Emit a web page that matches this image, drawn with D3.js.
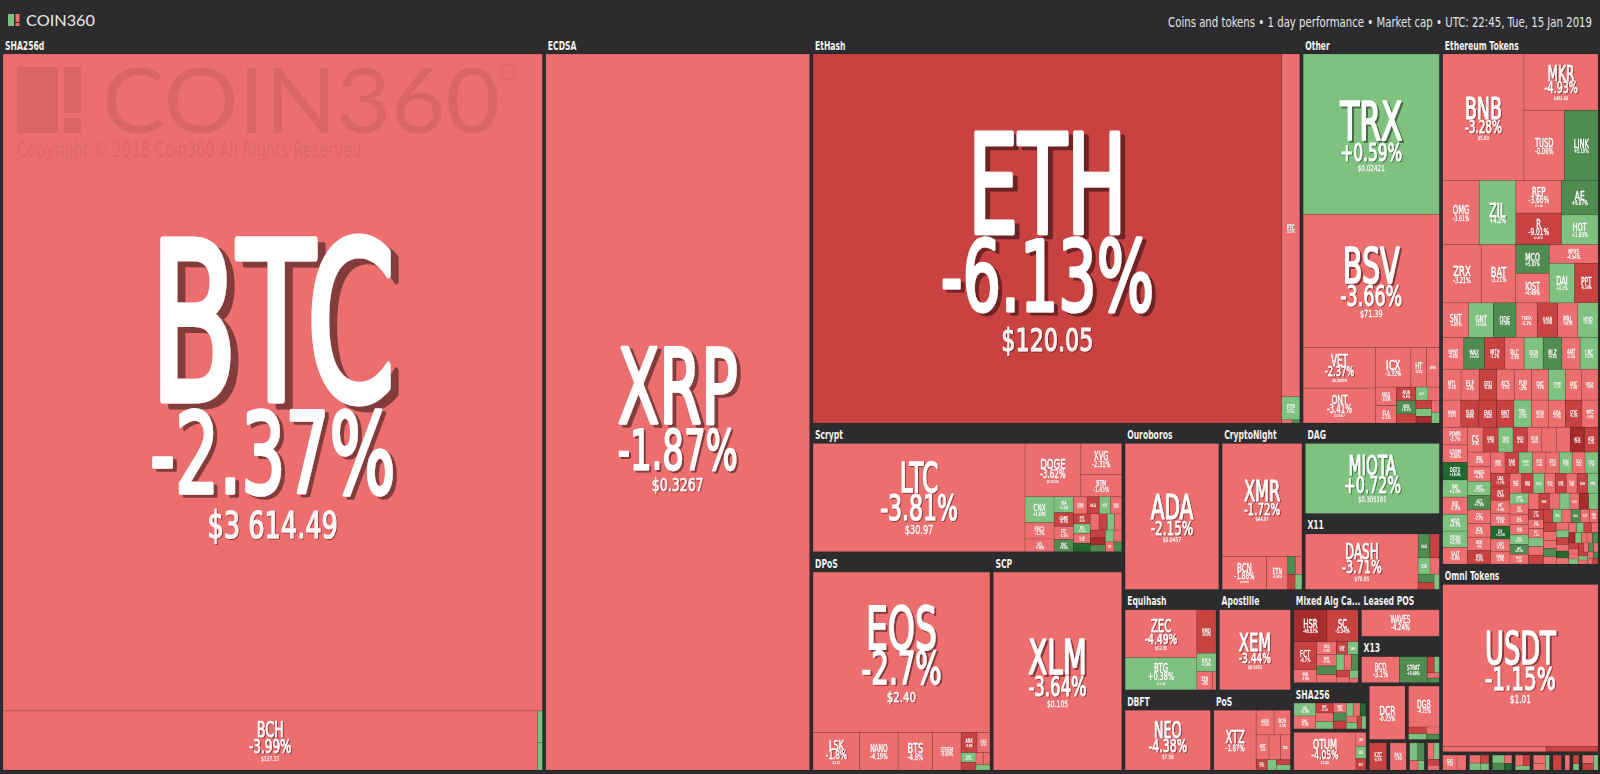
<!DOCTYPE html>
<html>
<head>
<meta charset="utf-8">
<title>COIN360</title>
<script src="https://cdnjs.cloudflare.com/ajax/libs/d3/7.8.5/d3.min.js"></script>
<style>
  html, body { margin: 0; padding: 0; background: #2c2c2e; overflow: hidden; }
  .t { font-family: "DejaVu Sans Condensed", "Liberation Sans Narrow", sans-serif; }
  .logo { font-family: Lato, "Open Sans", sans-serif; }
</style>
</head>
<body>
<svg id="chart" width="1600" height="774"></svg>
<script>
// ---------------- data ----------------
var headerInfo = ["Coins and tokens", "1 day performance", "Market cap", "UTC: 22:45, Tue, 15 Jan 2019"];

// groups that show a header label
var groupNames = ["SHA256d", "ECDSA", "EtHash", "Other", "Ethereum Tokens", "Scrypt", "DPoS", "SCP",
  "Ouroboros", "CryptoNight", "DAG", "X11", "Equihash", "Apostille", "Mixed Alg Ca...", "Leased POS",
  "X13", "DBFT", "PoS", "SHA256", "Omni Tokens"];
// small groups whose header is hidden
var hiddenGroups = ["Qtum", "Decred", "DigiByte", "Zcoin", "PIVX", "Lyra2", "Misc",
  "NEO Tokens", "Waves Tokens", "Ardor Tokens", "Tron Tokens", "Stellar Tokens", "Steem Tokens",
  "BitShares Tokens", "Lisk Tokens", "EOS Tokens"];

// [ticker, size (market cap weight), 1 day change %, price]
var sha256dCoins = [["BTC", 3659, -2.37, "$3 614.49"], ["BCH", 326, -3.99, "$127.17"], ["PPC", 1.6, 2.14, ""], ["NMC", 1.4, 4.61, ""]];
var ecdsaCoins = [["XRP", 1963, -1.87, "$0.3267"]];
var ethashCoins = [["ETH", 1834, -6.13, "$120.05"], ["ETC", 65.4, -4.37, "$4.52"], ["ETP", 4.4, 3.02, "$1.27"], ["UBQ", 0.35, -4.8, ""], ["CLO", 0.25, 6.2, ""]];
var otherCoins = [["TRX", 235.5, 0.59, "$0.02421"], ["BSV", 195.7, -3.66, "$71.39"], ["VET", 31.9, -2.37, "$0.00459"],
  ["ONT", 27.3, -3.41, "$0.9567"], ["ICX", 15.1, -3.32, "$0.2931"], ["HT", 6.7, -0.2, "$1.05"], ["WAN", 5.5, -4.31, "$0.4236"],
  ["NAS", 4.1, -3.8, "$1.04"], ["ELA", 3.9, -2.1, "$1.91"], ["AION", 2.9, -5.4, ""], ["NKN", 2.8, 6.1, ""], ["NULS", 1.9, -6.2, ""],
  ["WICC", 1.7, 2.4, ""], ["MOAC", 1.6, -3.1, ""], ["SEELE", 1.4, -7.9, ""], ["TOMO", 1.3, 4.6, ""], ["HPB", 1.1, -16.2, ""],
  ["YOYO", 1.0, -4.4, ""], ["NEBL", 0.9, 1.2, ""]];
var ethTokenCoins = [["BNB", 108.8, -3.28, "$5.80"], ["MKR", 44.2, -4.93, "$461.80"], ["TUSD", 30.2, -0.06, "$1.01"],
  ["LINK", 24.9, 5.19, "$0.4912"], ["OMG", 24.9, -3.61, "$1.32"], ["ZIL", 24.9, 4.2, "$0.0251"], ["ZRX", 23.8, -3.21, "$0.3126"],
  ["BAT", 21.3, -3.21, "$0.1569"], ["REP", 15.8, -3.66, "$11.48"], ["R", 15.3, -9.01, "$0.8912"], ["AE", 13.4, 9.07, "$0.5011"],
  ["HOT", 11.5, 1.85, "$0.0010"], ["DAI", 10.6, 0.1, "$1.00"], ["IOST", 10.5, -4.48, "$0.0081"], ["MCO", 10.2, 5.02, "$3.51"],
  ["PPT", 9.8, -6.29, "$1.35"], ["NPXS", 9.7, -4.54, "$0.0006"], ["SNT", 9.5, -1.65, "$0.0221"], ["GNT", 9.1, 4.03, "$0.0776"],
  ["ODE", 8.3, 5.28, "$0.62"], ["PRL", 7.4, -4.62, "$0.94"], ["QASH", 7.5, -5.64, ""], ["WAX", 7.0, 14.02, ""], ["DCN", 6.4, 1.67, ""],
  ["LRC", 6.0, 3.2, ""], ["ELF", 5.9, -3.2, ""], ["KCS", 5.7, -3.73, ""], ["QKC", 5.5, -3.9, ""], ["POLY", 5.3, -3.45, ""],
  ["MANA", 5.2, -2.87, ""], ["ENG", 5.1, -7.84, ""], ["BNT", 5.0, -5.91, ""], ["VERI", 4.9, -4.02, ""], ["WTC", 4.6, -3.9, ""],
  ["POWR", 4.6, -3.7, ""], ["LOOM", 4.6, -3.83, ""], ["PAY", 4.5, 1.9, ""], ["STORJ", 4.3, 2.5, ""], ["MOD", 3.8, -6.9, ""],
  ["RDN", 3.8, -4.4, ""], ["CENNZ", 3.7, -3.22, ""], ["AGI", 3.6, -6.2, ""], ["ENJ", 3.6, -3.1, ""], ["QNT", 3.5, 1.24, ""],
  ["CVC", 3.4, -2.7, ""], ["REQ", 3.3, -4.0, ""], ["SAN", 3.1, -8.2, ""], ["KIN", 2.9, 1.3, ""], ["EDO", 2.9, -4.5, ""],
  ["GVT", 2.7, -5.8, ""], ["ETHOS", 2.6, -3.5, ""], ["DRGN", 2.5, -3.9, ""], ["BRD", 2.4, -6.5, ""], ["DGD", 2.3, -3.3, ""],
  ["EDG", 1.9, 2.1, ""], ["THETA", 7.8, -3.1, ""], ["NEXO", 7.4, 2.4, ""], ["DENT", 7.1, -4.6, ""], ["MITH", 6.9, -7.2, ""],
  ["RLC", 6.5, -3.9, ""], ["BLZ", 6.3, 6.8, ""], ["ANT", 6.2, -2.2, ""], ["MTL", 6.0, -4.1, ""], ["GTO", 5.8, -5.3, ""],
  ["FUN", 5.7, -3.0, ""], ["STORM", 5.5, 1.1, ""], ["KNC", 5.4, -4.4, ""], ["SUB", 5.2, -9.6, ""], ["TEL", 5.0, 3.3, ""],
  ["AOA", 4.9, -3.7, ""], ["CTXC", 4.8, -6.1, ""], ["DGTX", 4.6, 18.2, ""], ["BIX", 4.5, -2.9, ""], ["MGO", 4.4, 4.7, ""],
  ["SALT", 4.3, -4.8, ""], ["CS", 4.1, -3.3, ""], ["DATA", 4.0, -5.7, ""], ["TNT", 3.9, 2.2, ""], ["SNGLS", 3.8, -3.5, ""],
  ["ADX", 3.7, -16.4, ""], ["WINGS", 3.6, -4.2, ""], ["AST", 3.5, 7.9, ""], ["RCN", 3.4, -3.1, ""], ["MTH", 3.3, -6.6, ""],
  ["LEND", 3.2, -2.6, ""], ["DROP", 3.1, 1.6, ""], ["XYO", 3.0, -4.9, ""], ["BTU", 3.0, -1.8, ""], ["UTK", 2.9, 3.8, ""],
  ["LBA", 2.8, -7.7, ""], ["IHT", 2.7, -3.4, ""], ["DX", 2.6, 22.5, ""], ["CRPT", 2.6, -4.1, ""], ["NEC", 2.5, -3.6, ""],
  ["OCN", 2.4, 1.9, ""], ["EVN", 2.3, -5.2, ""], ["POE", 2.3, -2.8, ""], ["SNM", 2.2, -6.3, ""], ["FTM", 2.2, 3.9, ""],
  ["IOTX", 2.1, 2.7, ""], ["ABT", 2.0, -3.9, ""], ["PLR", 2.0, -4.7, ""], ["GEN", 2.0, -3.7, ""], ["MFT", 1.9, 12.1, ""],
  ["RHOC", 1.9, -4.9, ""], ["APPC", 1.8, -3.2, ""], ["GNX", 1.8, -8.8, ""], ["MXM", 1.8, -2.5, ""], ["RUFF", 1.7, 1.4, ""],
  ["DTR", 1.6, -4.3, ""], ["BCPT", 1.6, -19.5, ""], ["TIME", 1.6, 4.4, ""], ["CVT", 1.6, -6.1, ""], ["QSP", 1.5, -2.9, ""],
  ["KEY", 1.5, -3.4, ""], ["CDT", 1.4, 4.9, ""], ["VIB", 1.4, -3.8, ""], ["ATMI", 1.4, -6.0, ""], ["TRAC", 1.3, -5.5, ""],
  ["DTA", 1.3, 2.9, ""], ["REM", 1.3, -2.2, ""], ["BAX", 1.3, 7.1, ""], ["EGT", 1.3, -4.2, ""], ["INS", 1.2, -4.0, ""],
  ["ZCO", 1.2, -11.3, ""], ["OLT", 1.2, -3.0, ""], ["LYM", 1.1, -3.5, ""], ["FSN", 1.1, 6.4, ""], ["MDA", 1.0, -2.4, ""],
  ["EDR", 1.0, -4.6, ""], ["AMB", 1.0, 1.2, ""], ["HYDRO", 0.9, -6.8, ""], ["PAL", 0.9, -3.1, ""], ["YEE", 0.9, 16.7, ""],
  ["CPC", 0.8, -4.4, ""], ["LOC", 0.8, -2.1, ""], ["TAAS", 0.8, 3.6, ""], ["NCASH", 0.8, -5.9, ""], ["WPR", 0.7, -3.0, ""],
  ["SPANK", 0.7, -24.1, ""], ["QLC", 0.7, 2.3, ""], ["ELEC", 0.6, -4.5, ""], ["DNT", 0.6, -3.3, ""], ["UKG", 0.6, 8.8, ""],
  ["SRN", 0.6, -6.4, ""], ["TNB", 0.5, -2.7, ""], ["OST", 0.5, -3.9, ""], ["CND", 0.5, 1.7, ""], ["ARN", 0.5, -5.1, ""],
  ["VEE", 0.5, -3.4, ""], ["LUN", 0.5, 11.6, ""], ["EKO", 0.4, -4.2, ""], ["BQX", 0.4, -7.5, ""], ["HMQ", 0.4, 2.6, ""],
  ["PRE", 0.4, -3.6, ""], ["DAT", 0.4, -2.3, ""], ["AIDOC", 0.3, 5.5, ""], ["SWM", 0.3, -4.9, ""], ["BCDN", 0.3, -13.2, ""]];
var scryptCoins = [["LTC", 275.1, -3.81, "$30.97"], ["DOGE", 35.7, -3.62, "$0.00205"], ["XVG", 15.3, -2.31, "$0.0089"],
  ["BTM", 10.8, -1.43, "$0.0918"], ["CNX", 9.0, 1.69, "$0.62"], ["EMC2", 5.7, -2.2, ""], ["SYS", 4.4, -4.38, ""], ["VIA", 3.7, 1.6, ""],
  ["GAME", 3.2, -6.7, ""], ["FTC", 3.1, -3.2, ""], ["DGC", 2.8, 9.4, ""], ["CANN", 2.8, -4.1, ""], ["NLG", 2.5, -12.5, ""],
  ["XST", 2.3, 3.1, ""], ["UNO", 2.3, -3.6, ""], ["POT", 2.0, -5.6, ""], ["BTA", 2.0, 2.2, ""], ["CLAM", 1.9, -4.4, ""],
  ["DOPE", 1.7, 17.3, ""], ["GLD", 1.7, -2.9, ""], ["ZET", 1.6, -7.4, ""], ["LINX", 1.4, 1.8, ""], ["PND", 1.4, -3.3, ""],
  ["MEC", 1.4, -5.2, ""], ["BLC", 1.3, -18.9, ""], ["TRC", 1.2, 5.7, ""], ["CSC", 1.2, 3.3, ""], ["SPR", 1.1, -4.0, ""],
  ["IFC", 1.0, -2.6, ""], ["NYC", 0.9, 8.1, ""]];
var dposCoins = [["EOS", 318.4, -2.7, "$2.40"], ["LSK", 19.6, -1.8, "$1.32"], ["NANO", 16.2, -4.19, "$1.03"], ["BTS", 14.5, -4.8, "$0.0489"],
  ["STEEM", 12.0, -3.84, "$0.2834"], ["ARK", 3.6, -5.6, "$0.42"], ["GXS", 2.9, -4.5, "$0.71"], ["SHIFT", 1.6, 2.1, ""],
  ["RISE", 1.3, -6.8, ""], ["OXY", 1.0, -3.2, ""], ["XAS", 0.9, -4.1, ""], ["ACT", 0.8, 1.4, ""]];
var scpCoins = [["XLM", 287, -3.64, "$0.105"]];
var ouroborosCoins = [["ADA", 161, -2.15, "$0.0457"]];
var cryptoNightCoins = [["XMR", 106.8, -1.72, "$44.07"], ["BCN", 17.4, -1.88, "$0.0008"], ["ETN", 8.3, -3.04, "$0.0059"],
  ["AEON", 1.6, 9.1, ""], ["XHV", 1.4, -2.2, ""], ["LOKI", 1.3, -6.9, ""], ["MSR", 1.2, 1.8, ""]];
var dagCoins = [["MIOTA", 124, 0.72, "$0.305181"]];
var x11Coins = [["DASH", 87.6, -3.71, "$70.05"], ["XSN", 3.9, 6.8, ""], ["CRW", 3.2, -6.1, ""], ["ION", 2.7, 1.3, ""],
  ["MUE", 2.1, -3.2, ""], ["CRC", 1.9, 12.0, ""], ["EXCL", 1.5, -9.0, ""], ["HTML", 1.1, 3.0, ""]];
var equihashCoins = [["ZEC", 44.7, -4.49, "$52.05"], ["BTG", 29.9, 0.38, "$11.48"], ["KMD", 10.8, -6.32, "$1.04"],
  ["BTCP", 4.6, 1.6, ""], ["ZEN", 3.7, -3.0, ""], ["ZCL", 0.8, -4.1, ""]];
var apostilleCoins = [["XEM", 74.5, -3.44, "$0.0583"]];
var dbftCoins = [["NEO", 71, -4.38, "$7.56"]];
var posCoins = [["XTZ", 35.4, -1.87, "$0.4789"], ["ARDR", 6.2, -3.03, ""], ["BOS", 5.6, -2.4, ""], ["NXT", 4.5, -4.6, ""],
  ["REDD", 4.0, -3.1, ""], ["BLK", 3.4, -4.7, ""], ["GRC", 1.6, -7.2, ""], ["ZCN", 1.3, 3.2, ""], ["CLOAK", 1.0, -5.5, ""],
  ["XSPEC", 1.0, 2.1, ""]];
var mixedCoins = [["HSR", 14.2, -46.82, "$0.91"], ["SC", 13.4, -5.14, "$0.0025"], ["FCT", 8.6, -6.7, ""], ["RVN", 4.0, -2.9, ""],
  ["NXS", 3.4, -1.9, ""], ["MYR", 3.0, -3.3, ""], ["AUR", 2.3, 7.5, ""], ["UFO", 2.1, -2.8, ""], ["GAP", 1.9, -9.1, ""],
  ["XMY", 1.8, 1.1, ""], ["XMG", 1.7, 2.2, ""], ["SPK", 1.6, -4.4, ""], ["SHIELD", 1.4, 14.2, ""], ["ADC", 1.2, -6.0, ""],
  ["DIME", 1.0, -3.0, ""], ["VIVO", 0.9, 2.6, ""], ["BCA", 0.5, -4.0, ""]];
var leasedPosCoins = [["WAVES", 38, -4.24, "$2.59"]];
var x13Coins = [["BCD", 18.3, -3.1, "$0.89"], ["STRAT", 13.4, 5.68, "$0.86"], ["NAV", 2.1, -6.3, ""], ["BITB", 1.5, 2.4, ""],
  ["MARS", 1.2, -3.9, ""], ["XHC", 1.0, 8.1, ""]];
var sha256Coins = [["XIN", 5.3, 1.9, ""], ["EMC", 5.3, -4.2, ""], ["MZC", 3.2, -12.4, ""], ["SLR", 2.9, -3.3, ""], ["TIT", 2.4, 4.4, ""],
  ["UNIT", 2.4, -2.8, ""], ["ACOIN", 2.0, 9.1, ""], ["BTCS", 1.9, -6.6, ""], ["CCN", 1.7, 2.3, ""], ["XJO", 1.7, -3.9, ""],
  ["DEM", 1.4, 17.5, ""], ["TEK", 1.3, -4.4, ""], ["CURE", 1.3, 1.6, ""], ["GLC", 1.1, -5.8, ""], ["ZEIT", 1.0, 3.7, ""]];
var qtumCoins = [["QTUM", 26.7, -4.05, "$2.08"], ["QBT", 1.6, -2.3, ""], ["INK", 1.4, 3.1, ""], ["BOT", 1.3, -5.9, ""]];
var decredCoins = [["DCR", 22.2, -0.23, "$18.22"]];
var digibyteCoins = [["DGB", 14.9, -4.21, "$0.0094"], ["SIB", 1.4, -6.4, ""], ["PAK", 1.2, 3.0, ""], ["VTC", 1.1, -3.5, ""], ["XWC", 0.8, 11.0, ""]];
var zcoinCoins = [["XZC", 6.3, -6.1, "$6.49"]];
var pivxCoins = [["PIVX", 6.0, -2.9, "$0.92"]];
var lyraCoins = [["GRS", 2.0, 4.1, ""], ["MONA", 1.6, 6.3, ""], ["LBC", 1.1, -2.0, ""], ["SMART", 0.8, 1.5, ""]];
var miscCoins = [["POA", 1.5, -3.7, ""], ["BURST", 1.3, 2.2, ""], ["XCP", 1.0, -7.5, ""], ["NLC2", 0.8, -2.1, ""]];
var omniCoins = [["USDT", 288, -1.15, "$1.01"], ["MAID", 6.0, -3.92, ""], ["OMNI", 3.0, -5.8, ""]];
var neoTokenCoins = [["GAS", 3.0, -3.3, ""], ["NEX", 1.9, -2.8, ""]];
var wavesTokenCoins = [["WCT", 1.3, -4.0, ""], ["BTN", 1.1, 2.5, ""], ["MRT", 1.0, -6.6, ""], ["TN", 0.8, 1.1, ""]];
var ardorTokenCoins = [["JLH", 1.4, 3.3, ""], ["SUPR", 1.2, 8.2, ""], ["ARDX", 0.9, -2.4, ""], ["IGNIS", 0.7, 15.5, ""]];
var tronTokenCoins = [["SEED", 1.3, -3.1, ""], ["IGG", 1.1, -7.2, ""], ["BET", 0.9, 2.0, ""]];
var stellarTokenCoins = [["MOBI", 1.5, -4.8, ""], ["REPO", 1.2, -2.1, ""], ["SLT", 0.9, 4.4, ""]];
var steemTokenCoins = [["SBD", 2.2, -6.9, ""]];
var btsTokenCoins = [["OPEN", 1.5, -3.5, ""]];
var liskTokenCoins = [["LWF", 1.0, -8.6, ""], ["ONZ", 0.7, 2.9, ""]];
var eosTokenCoins = [["IQ", 1.4, -3.2, ""], ["KARMA", 1.1, -12.0, ""], ["EOSDAC", 1.0, 4.1, ""]];

var groupCoins = {
  "SHA256d": sha256dCoins, "ECDSA": ecdsaCoins, "EtHash": ethashCoins, "Other": otherCoins,
  "Ethereum Tokens": ethTokenCoins, "Scrypt": scryptCoins, "DPoS": dposCoins, "SCP": scpCoins,
  "Ouroboros": ouroborosCoins, "CryptoNight": cryptoNightCoins, "DAG": dagCoins, "X11": x11Coins,
  "Equihash": equihashCoins, "Apostille": apostilleCoins, "DBFT": dbftCoins, "PoS": posCoins,
  "Mixed Alg Ca...": mixedCoins, "Leased POS": leasedPosCoins, "X13": x13Coins, "SHA256": sha256Coins,
  "Qtum": qtumCoins, "Decred": decredCoins, "DigiByte": digibyteCoins, "Zcoin": zcoinCoins, "PIVX": pivxCoins,
  "Lyra2": lyraCoins, "Misc": miscCoins, "Omni Tokens": omniCoins, "NEO Tokens": neoTokenCoins,
  "Waves Tokens": wavesTokenCoins, "Ardor Tokens": ardorTokenCoins, "Tron Tokens": tronTokenCoins,
  "Stellar Tokens": stellarTokenCoins, "Steem Tokens": steemTokenCoins, "BitShares Tokens": btsTokenCoins,
  "Lisk Tokens": liskTokenCoins, "EOS Tokens": eosTokenCoins
};

// how groups are nested: "h" = side by side, "v" = stacked
var layoutSpec = ["h", "SHA256d", "ECDSA",
  ["v",
    ["h", "EtHash", "Other"],
    ["h",
      ["v", "Scrypt", ["h", "DPoS", "SCP"]],
      ["v",
        ["h", "Ouroboros", "CryptoNight", ["v", "DAG", "X11"]],
        ["h",
          ["v", ["h", "Equihash", "Apostille"], ["h", "DBFT", "PoS"]],
          ["v",
            ["h", "Mixed Alg Ca...", ["v", "Leased POS", "X13"]],
            ["h", ["v", "SHA256", "Qtum"],
                  ["v", ["h", "Decred", "DigiByte"], ["h", "Zcoin", "PIVX", "Lyra2", "Misc"]]]]]]]],
  ["v", "Ethereum Tokens", "Omni Tokens",
    ["h", "NEO Tokens", "Waves Tokens", "Ardor Tokens", "Tron Tokens", "Stellar Tokens", "Steem Tokens",
      "BitShares Tokens", "Lisk Tokens", "EOS Tokens"]]];

// inner arrangement for a couple of groups ("*" = the rest, squarified)
var groupLayouts = {
  "Ethereum Tokens": ["v",
    ["h", "BNB", ["v", "MKR", ["h", "TUSD", "LINK"]]],
    ["h", "OMG", "ZIL", ["v", "REP", "R"], ["v", "AE", "HOT"]],
    ["h", "ZRX", "BAT", ["v", "MCO", "IOST"], ["v", "NPXS", ["h", "DAI", "PPT"]]],
    "*"],
  "Scrypt": ["h", "LTC", ["v", ["h", "DOGE", ["v", "XVG", "BTM"]], "*"]]
};

// ---------------- chart ----------------
var width = 1600, height = 774;
var svg = d3.select("#chart");
var defs = svg.append("defs");
svg.append("rect").attr("width", width).attr("height", height).attr("fill", "#2c2c2e");

var color = d3.scaleThreshold()
  .domain([-15, -5, 0, 5, 15])
  .range(["#a82c2c", "#c84242", "#ec6e6e", "#7fc17f", "#508c50", "#22692f"]);

var meas = svg.append("text").attr("class", "t").attr("font-size", 100).style("visibility", "hidden");
var widthCache = {};
function textW(str, weight) {
  var key = weight + "|" + str;
  if (widthCache[key] == null) {
    meas.attr("font-weight", weight).text(str);
    widthCache[key] = meas.node().getComputedTextLength() / 100;
  }
  return widthCache[key];
}
var CAP = 0.729;
var sxName = 1.54 * CAP / textW("BTC", 400);
var sxNum = 3.0 * CAP / textW("-2.37%", 400);
var sxPrice = sxNum * 1.12;
var sxLabel = 74 / (textW("Ethereum Tokens", 700) * 11.5);

// drop shadow filters, one per offset
var filterCache = {};
function shadow(dx, dy) {
  dx = Math.round(dx * 4) / 4; dy = Math.round(dy * 4) / 4;
  var key = "sh" + (dx * 4) + "_" + (dy * 4);
  if (!filterCache[key]) {
    var f = defs.append("filter").attr("id", key)
      .attr("x", "-15%").attr("y", "-15%").attr("width", "140%").attr("height", "140%");
    f.append("feOffset").attr("in", "SourceAlpha").attr("dx", dx).attr("dy", dy).attr("result", "o");
    f.append("feFlood").attr("flood-color", "#000").attr("flood-opacity", 0.45);
    f.append("feComposite").attr("in2", "o").attr("operator", "in").attr("result", "s");
    var m = f.append("feMerge");
    m.append("feMergeNode").attr("in", "s");
    m.append("feMergeNode").attr("in", "SourceGraphic");
    filterCache[key] = true;
  }
  return "url(#" + key + ")";
}

function buildGroup(name) {
  var coins = groupCoins[name].map(function (c) {
    return { kind: "coin", name: c[0], size: c[1], change: c[2], price: c[3] };
  }).sort(function (a, b) { return b.size - a.size; });
  var grp = { kind: "group", name: name, label: groupNames.indexOf(name) >= 0 };
  var spec = groupLayouts[name];
  if (!spec) { grp.children = coins; return grp; }
  var used = {}, rest = { kind: "sub", children: [] };
  function sub(s) {
    if (s === "*") return rest;
    if (typeof s === "string") {
      used[s] = true;
      return coins.find(function (c) { return c.name === s; });
    }
    return { kind: "sub", dir: s[0], children: s.slice(1).map(sub) };
  }
  grp.children = [sub(spec)];
  rest.children = coins.filter(function (c) { return !used[c.name]; });
  return grp;
}
function buildNode(spec) {
  if (typeof spec === "string") return buildGroup(spec);
  return { kind: "layout", dir: spec[0], children: spec.slice(1).map(buildNode) };
}

var treemap = d3.treemap()
  .size([1595, 733])
  .paddingInner(function (d) { return d.data.kind === "layout" ? 3.5 : 0; })
  .paddingTop(function (d) { return d.data.kind === "group" && d.data.label ? 17 : 0; })
  .tile(function (node, x0, y0, x1, y1) {
    if (node.data.dir === "h") d3.treemapDice(node, x0, y0, x1, y1);
    else if (node.data.dir === "v") d3.treemapSlice(node, x0, y0, x1, y1);
    else d3.treemapSquarify(node, x0, y0, x1, y1);
  });

var root = d3.hierarchy(buildNode(layoutSpec))
  .sum(function (d) { return d.kind === "coin" ? d.size : 0; });
treemap(root);

// ---- top bar ----
svg.append("rect").attr("x", 8).attr("y", 14).attr("width", 6).attr("height", 12).attr("fill", "#7fc17f");
svg.append("rect").attr("x", 15.5).attr("y", 14).attr("width", 4).attr("height", 8).attr("fill", "#ec6e6e");
svg.append("rect").attr("x", 15.5).attr("y", 23).attr("width", 4).attr("height", 3).attr("fill", "#ec6e6e");
svg.append("text").attr("class", "logo").attr("x", 26).attr("y", 26)
  .attr("font-size", 15.5).attr("fill", "#e8e8e8")
  .attr("textLength", 69).attr("lengthAdjust", "spacingAndGlyphs").text("COIN360");
var info = headerInfo.join("  \u2022  ");
var infoScale = 424 / (textW(info, 400) * 13.5);
svg.append("text").attr("class", "t")
  .attr("transform", "translate(1592,27) scale(" + infoScale + ",1)")
  .attr("text-anchor", "end").attr("font-size", 13.5).attr("fill", "#e4e4e4")
  .text(info);

var g = svg.append("g").attr("transform", "translate(3,37)");

var groups = root.descendants().filter(function (d) { return d.data.kind === "group"; });
var coins = root.leaves().filter(function (d) { return d.data.kind === "coin"; });

g.selectAll(".cell").data(coins).enter().append("rect")
  .attr("class", "cell")
  .attr("x", function (d) { return d.x0; })
  .attr("y", function (d) { return d.y0; })
  .attr("width", function (d) { return Math.max(0, d.x1 - d.x0); })
  .attr("height", function (d) { return Math.max(0, d.y1 - d.y0); })
  .attr("fill", function (d) { return color(d.data.change); })
  .attr("stroke", "#000").attr("stroke-opacity", 0.14).attr("stroke-width", 0.8);

g.selectAll(".glabel").data(groups.filter(function (d) { return d.data.label; })).enter().append("text")
  .attr("class", "t glabel")
  .attr("transform", function (d) { return "translate(" + (d.x0 + 2) + "," + (d.y0 + 12.5) + ") scale(" + sxLabel + ",1)"; })
  .attr("font-size", 11.5).attr("font-weight", 700).attr("fill", "#f2f2f2")
  .text(function (d) { return d.data.name; });

// ---- watermark in the BTC cell ----
var btc = coins.find(function (d) { return d.data.name === "BTC"; });
var wm = g.append("g").attr("transform", "translate(" + btc.x0 + "," + btc.y0 + ")")
  .attr("fill", "#000").attr("fill-opacity", 0.075);
wm.append("rect").attr("x", 14).attr("y", 13).attr("width", 41).attr("height", 66);
wm.append("rect").attr("x", 61).attr("y", 13).attr("width", 17).attr("height", 46);
wm.append("rect").attr("x", 61).attr("y", 64).attr("width", 17).attr("height", 15);
wm.append("text").attr("class", "logo").attr("x", 99).attr("y", 79)
  .attr("font-size", 92).attr("font-weight", 400)
  .attr("textLength", 398).attr("lengthAdjust", "spacingAndGlyphs").text("COIN360");
wm.append("circle").attr("cx", 505).attr("cy", 18).attr("r", 7)
  .attr("fill", "none").attr("stroke", "#000").attr("stroke-opacity", 0.075).attr("stroke-width", 1.2);
wm.append("text").attr("class", "t").attr("x", 505).attr("y", 20).attr("text-anchor", "middle")
  .attr("font-size", 5.5).text("TM");
wm.append("text").attr("class", "t").attr("x", 14).attr("y", 103)
  .attr("font-size", 21).attr("textLength", 349).attr("lengthAdjust", "spacingAndGlyphs")
  .text("Copyright \u00a9 2018 Coin360 All Rights Reserved.");

// ---- cell labels ----
var labels = g.append("g");
function drawText(str, cx, base, cap, sx, opacity) {
  var fs = cap / CAP, off = Math.max(0.4, cap * 0.05);
  labels.append("text").attr("class", "t")
    .attr("transform", "translate(" + cx + "," + base + ") scale(" + sx + ",1)")
    .attr("text-anchor", "middle").attr("font-size", fs).attr("font-weight", 400)
    .attr("fill", "#fff").attr("fill-opacity", opacity)
    .attr("stroke", "#fff").attr("stroke-opacity", opacity).attr("stroke-width", fs * 0.032)
    .attr("stroke-linejoin", "round")
    .attr("filter", shadow(off / sx, off * 0.8))
    .text(str);
}

coins.forEach(function (d) {
  var w = d.x1 - d.x0, h = d.y1 - d.y0, c = d.data;
  if (w < 4 || h < 4) return;
  var pct = (c.change > 0 ? "+" : "") + c.change + "%";
  var nameCap = Math.min(0.27 * h, 0.455 * w * CAP / (textW(c.name, 400) * sxName));
  var pctCap = Math.min(0.24 * h, 0.455 * w * CAP / (textW(pct, 400) * sxNum));
  var priceCap = c.price ? Math.min(0.33 * pctCap, 0.6 * w * CAP / (textW(c.price, 400) * sxPrice)) : 0;
  var showPct = pctCap >= 2, showPrice = showPct && priceCap >= 2.2;
  if (nameCap < 2.5) return;
  var g1 = 0.07 * nameCap, g2 = 0.22 * pctCap;
  var total = nameCap + (showPct ? g1 + pctCap : 0) + (showPrice ? g2 + priceCap : 0);
  var top = (d.y0 + d.y1) / 2 + 0.01 * h - total / 2;
  var cx = (d.x0 + d.x1) / 2;
  drawText(c.name, cx, top + nameCap, nameCap, sxName, 1);
  if (showPct) drawText(pct, cx, top + nameCap + g1 + pctCap, pctCap, sxNum, 1);
  if (showPrice) drawText(c.price, cx, top + nameCap + g1 + pctCap + g2 + priceCap, priceCap, sxPrice, 0.9);
});
</script>
</body>
</html>
